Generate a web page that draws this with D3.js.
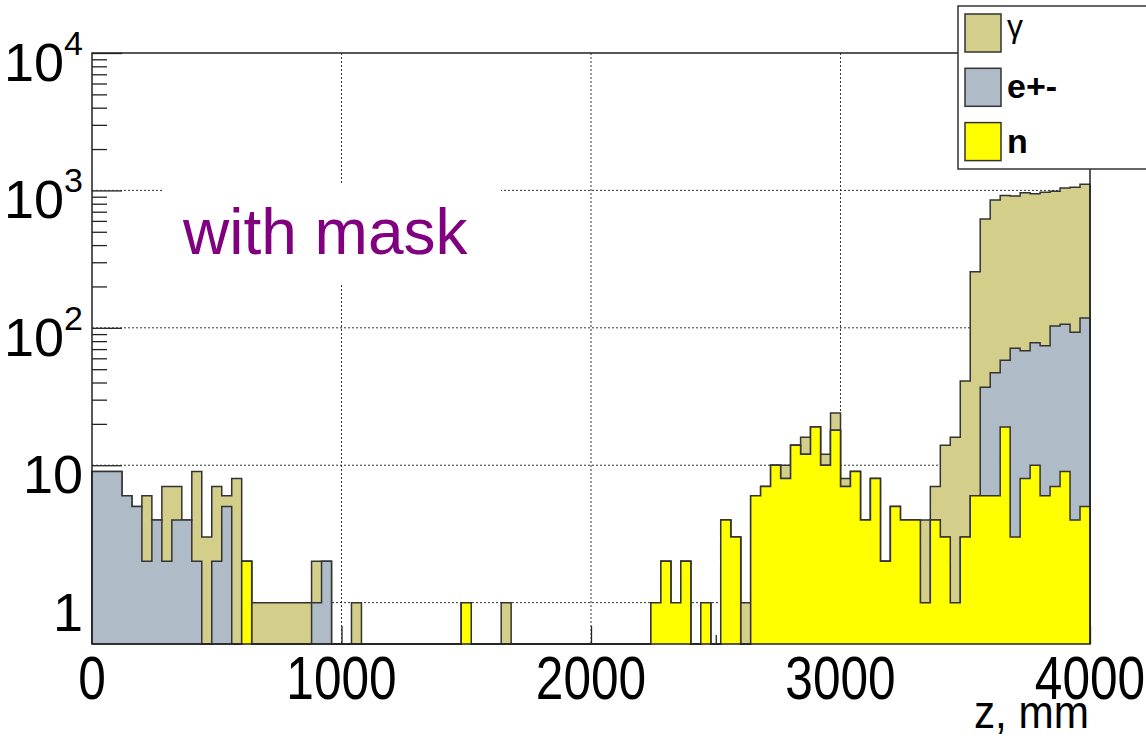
<!DOCTYPE html>
<html>
<head>
<meta charset="utf-8">
<script src="https://cdn.jsdelivr.net/npm/d3@7"></script>
<style>
  body { margin: 0; background: #fff; }
  text { font-family: "Liberation Sans", Arial, Helvetica, sans-serif; }
</style>
</head>
<body>
<svg width="1146" height="740"></svg>
<script>
// counts per 40 mm bin, z = 0 .. 4000 mm (100 bins)
let gammaCounts = [
  0, 0, 0, 0, 0, 4, 0, 5, 3, 0,
  7, 3, 5, 1, 8, 0, 1, 1, 1, 1,
  1, 1, 1, 0, 0, 0, 1, 0, 0, 0,
  0, 0, 0, 0, 0, 0, 0, 0, 0, 0,
  0, 1, 0, 0, 0, 0, 0, 0, 0, 0,
  0, 0, 0, 0, 0, 0, 0, 0, 0, 0,
  0, 0, 0, 0, 0, 1, 0, 0, 0, 2,
  0, 4, 0, 2, 6, 1, 0, 0, 0, 0,
  0, 0, 0, 3, 3, 11, 15, 38, 250, 583,
  803, 862, 839, 892, 867, 896, 882, 934, 962, 992
];
let electronCounts = [
  9, 9, 9, 6, 5, 2, 4, 2, 4, 4,
  2, 0, 2, 5, 0, 0, 0, 0, 0, 0,
  0, 0, 1, 2, 0, 0, 0, 0, 0, 0,
  0, 0, 0, 0, 0, 0, 0, 0, 0, 0,
  0, 0, 0, 0, 0, 0, 0, 0, 0, 0,
  0, 0, 0, 0, 0, 0, 0, 0, 0, 0,
  0, 0, 0, 0, 0, 0, 0, 0, 0, 0,
  0, 0, 0, 0, 0, 0, 0, 0, 0, 0,
  0, 0, 0, 0, 0, 0, 0, 0, 0, 31,
  41, 39, 68, 60, 68, 68, 96, 97, 89, 113
];
let neutronCounts = [
  0, 0, 0, 0, 0, 0, 0, 0, 0, 0,
  0, 0, 0, 0, 0, 2, 0, 0, 0, 0,
  0, 0, 0, 0, 0, 0, 0, 0, 0, 0,
  0, 0, 0, 0, 0, 0, 0, 1, 0, 0,
  0, 0, 0, 0, 0, 0, 0, 0, 0, 0,
  0, 0, 0, 0, 0, 0, 1, 2, 1, 2,
  0, 1, 0, 4, 3, 0, 6, 7, 10, 8,
  14, 12, 19, 10, 18, 7, 9, 4, 8, 2,
  5, 4, 4, 1, 4, 3, 1, 3, 6, 6,
  6, 19, 3, 8, 10, 6, 7, 9, 4, 5
];

let zMin = 0, zMax = 4000, binWidth = 40;
let yTickMajors = [1, 10, 100, 1000, 10000];
let yTickLabels = [["1", ""], ["10", ""], ["10", "2"], ["10", "3"], ["10", "4"]];
let xTickMajors = [0, 1000, 2000, 3000, 4000];
let xTickMinors = [500, 1500, 2500, 3500];
let legendNames = ["\u03b3", "e+-", "n"];
let colors = { gamma: "#d3cf8a", electron: "#afbcc7", neutron: "#ffff00" };

let frame = { left: 92, right: 1090, top: 53, bottom: 644 };

let svg = d3.select("svg");

let xScale = d3.scaleLinear()
  .domain([zMin, zMax])
  .range([frame.left, frame.right]);

let yScale = d3.scaleLog()
  .domain([0.5, 10000])
  .range([frame.bottom, frame.top]);

// stacked sums, drawn largest first like a THStack
let nSum = neutronCounts.slice();
let enSum = neutronCounts.map((d, i) => d + electronCounts[i]);
let allSum = enSum.map((d, i) => d + gammaCounts[i]);

// minor ticks on the log axis
let yMinors = [];
[1, 10, 100, 1000].forEach(function (dec) {
  for (let k = 2; k <= 9; k++) yMinors.push(dec * k);
});
yMinors.push(0.6, 0.7, 0.8, 0.9);

// ticks (drawn first, fills cover them)
svg.append("g")
  .attr("transform", "translate(" + frame.left + ",0)")
  .call(d3.axisRight(yScale).tickValues(yMinors).tickSize(15).tickFormat(""))
  .call(g => g.select(".domain").remove())
  .call(g => g.selectAll("line").attr("stroke", "#222").attr("stroke-width", 1.3));

svg.append("g")
  .attr("transform", "translate(" + frame.left + ",0)")
  .call(d3.axisRight(yScale).tickValues(yTickMajors).tickSize(30).tickFormat(""))
  .call(g => g.select(".domain").remove())
  .call(g => g.selectAll("line").attr("stroke", "#222").attr("stroke-width", 1.3));

svg.append("g")
  .attr("transform", "translate(0," + frame.bottom + ")")
  .call(d3.axisTop(xScale).tickValues(xTickMajors).tickSize(18).tickFormat(""))
  .call(g => g.select(".domain").remove())
  .call(g => g.selectAll("line").attr("stroke", "#222").attr("stroke-width", 1.3));

svg.append("g")
  .attr("transform", "translate(0," + frame.bottom + ")")
  .call(d3.axisTop(xScale).tickValues(xTickMinors).tickSize(9).tickFormat(""))
  .call(g => g.select(".domain").remove())
  .call(g => g.selectAll("line").attr("stroke", "#222").attr("stroke-width", 1.3));

// dotted grid
let grid = svg.append("g")
  .attr("stroke", "#333")
  .attr("stroke-width", 1)
  .attr("stroke-dasharray", "2,2");

grid.selectAll(".gy")
  .data(yTickMajors.slice(0, 4))
  .enter().append("line")
  .attr("x1", frame.left).attr("x2", frame.right)
  .attr("y1", d => yScale(d)).attr("y2", d => yScale(d));

grid.selectAll(".gx")
  .data(xTickMajors.slice(1, 4))
  .enter().append("line")
  .attr("x1", d => xScale(d)).attr("x2", d => xScale(d))
  .attr("y1", frame.top).attr("y2", frame.bottom);

// step outline for a histogram, empty bins dropped to the axis minimum
function stepPath(values) {
  let floor = yScale.domain()[0];
  let p = d3.path();
  p.moveTo(xScale(zMin), yScale(floor));
  values.forEach(function (v, i) {
    let yy = yScale(Math.max(v, floor));
    p.lineTo(xScale(zMin + i * binWidth), yy);
    p.lineTo(xScale(zMin + (i + 1) * binWidth), yy);
  });
  p.lineTo(xScale(zMax), yScale(floor));
  return p.toString();
}

let layers = [
  { values: allSum, color: colors.gamma },
  { values: enSum, color: colors.electron },
  { values: nSum, color: colors.neutron }
];

svg.selectAll(".hist")
  .data(layers)
  .enter().append("path")
  .attr("class", "hist")
  .attr("d", d => stepPath(d.values))
  .attr("fill", d => d.color)
  .attr("stroke", "#333")
  .attr("stroke-width", 1.5)
  .attr("stroke-linejoin", "miter");

// frame
svg.append("rect")
  .attr("x", frame.left).attr("y", frame.top)
  .attr("width", frame.right - frame.left)
  .attr("height", frame.bottom - frame.top)
  .attr("fill", "none")
  .attr("stroke", "#222")
  .attr("stroke-width", 1.5);

// y labels
let yl = svg.append("g").attr("font-size", 54).attr("fill", "#000");
yTickMajors.forEach(function (v, i) {
  let t = yl.append("text")
    .attr("x", 83)
    .attr("y", yScale(v) + 28)
    .attr("text-anchor", "end");
  t.append("tspan").text(yTickLabels[i][0]);
  if (yTickLabels[i][1]) {
    t.append("tspan").attr("font-size", 34).attr("dy", -26).text(yTickLabels[i][1]);
  }
});

// x labels, a bit condensed like the original
svg.append("g").attr("font-size", 62).attr("fill", "#000")
  .selectAll("text")
  .data(xTickMajors)
  .enter().append("text")
  .attr("transform", d => "translate(" + xScale(d) + ",699) scale(0.8,1)")
  .attr("text-anchor", "middle")
  .text(d => d);

svg.append("text")
  .attr("transform", "translate(1089,728) scale(0.9,1)")
  .attr("text-anchor", "end")
  .attr("font-size", 47)
  .text("z, mm");

// label box
svg.append("rect")
  .attr("x", 163).attr("y", 184)
  .attr("width", 338).attr("height", 99)
  .attr("fill", "#fff");
svg.append("text")
  .attr("x", 183).attr("y", 254)
  .attr("font-size", 64)
  .attr("fill", "#800080")
  .text("with mask");

// legend
let legend = svg.append("g");
legend.append("rect")
  .attr("x", 958).attr("y", 6)
  .attr("width", 220).attr("height", 163)
  .attr("fill", "#fff")
  .attr("stroke", "#333")
  .attr("stroke-width", 1.5);

let legendColors = [colors.gamma, colors.electron, colors.neutron];
legendNames.forEach(function (name, i) {
  let top = 14 + i * 54.3;
  legend.append("rect")
    .attr("x", 965).attr("y", top)
    .attr("width", 36).attr("height", 38)
    .attr("fill", legendColors[i])
    .attr("stroke", "#333")
    .attr("stroke-width", 1.5);
  legend.append("text")
    .attr("x", 1007).attr("y", top + (i == 0 ? 23 : 30))
    .attr("font-size", i == 0 ? 32 : 34)
    .attr("font-family", i == 0 ? "'DejaVu Serif', serif" : null)
    .attr("font-weight", i == 0 ? "normal" : "bold")
    .text(name);
});
</script>
</body>
</html>
